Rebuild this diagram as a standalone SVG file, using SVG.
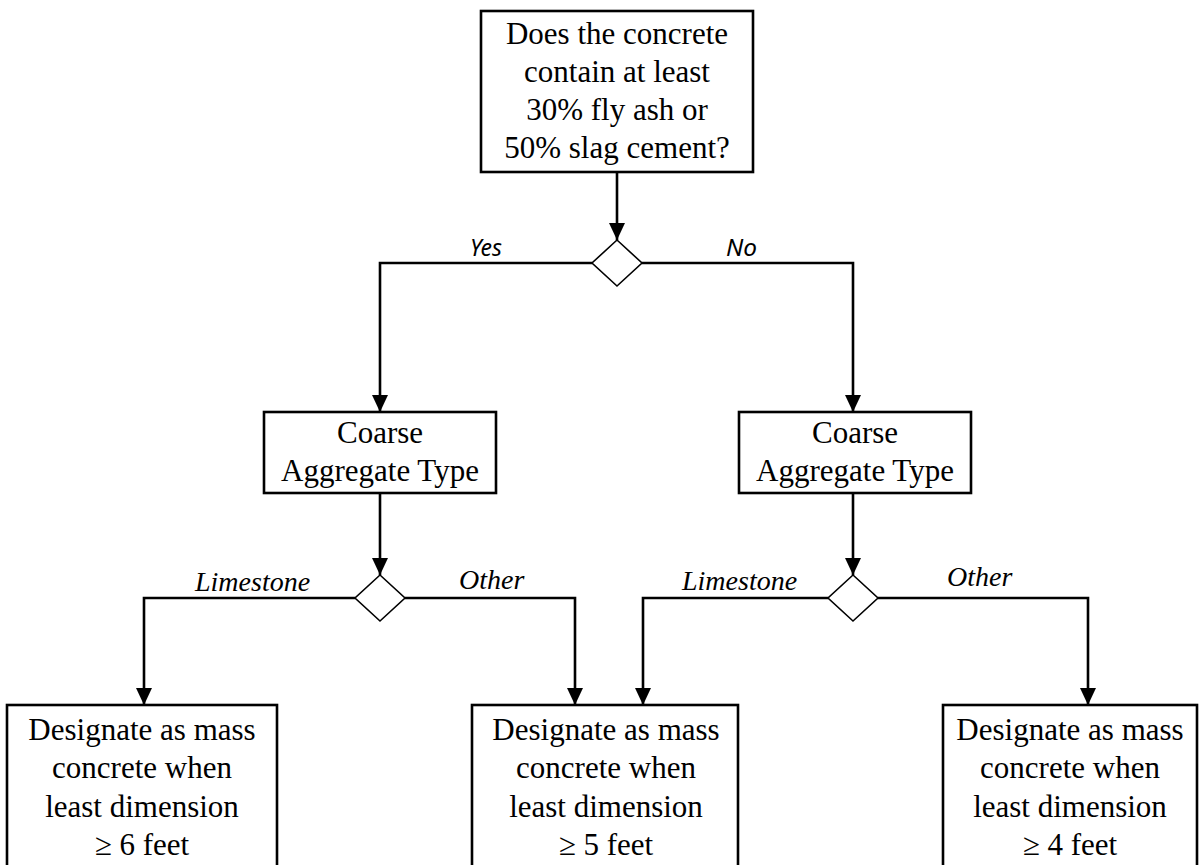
<svg xmlns="http://www.w3.org/2000/svg" width="1202" height="865" viewBox="0 0 1202 865">
  <style>
    .box { fill: #ffffff; stroke: #000000; stroke-width: 2.6; }
    .dia { fill: #ffffff; stroke: #000000; stroke-width: 1.6; }
    .txt { font-family: "Liberation Serif", "Times New Roman", serif; font-size: 31px; fill: #000000; text-anchor: middle; }
    .lbl { font-family: "Liberation Serif", "Times New Roman", serif; font-size: 28px; font-style: italic; fill: #000000; }
    .lbs { font-family: "Noto Sans", "Open Sans", sans-serif; font-size: 24px; font-style: italic; fill: #000000; }
    .conn { fill: none; stroke: #000000; stroke-width: 2.6; marker-end: url(#arrow); }
  </style>
  <defs>
    <marker id="arrow" viewBox="0 0 17 16" refX="17" refY="8" markerWidth="17" markerHeight="16" markerUnits="userSpaceOnUse" orient="auto">
      <path d="M0,0 L17,8 L0,16 z" fill="#000000"/>
    </marker>
  </defs>
  <rect width="1202" height="865" fill="#ffffff"/>

  <!-- connectors -->
  <g id="connectors">
    <path class="conn" d="M617,172 V240"/>
    <path class="conn" d="M592,263 H380 V412"/>
    <path class="conn" d="M642,263 H853 V412"/>
    <path class="conn" d="M380,493 V575"/>
    <path class="conn" d="M853,493 V575"/>
    <path class="conn" d="M355,598 H144 V705"/>
    <path class="conn" d="M405,598 H575 V705"/>
    <path class="conn" d="M828,598 H643 V705"/>
    <path class="conn" d="M878,598 H1088 V705"/>
    <text class="lbs" x="470" y="256" textLength="32" lengthAdjust="spacingAndGlyphs">Yes</text>
    <text class="lbs" x="726" y="256" textLength="31" lengthAdjust="spacingAndGlyphs">No</text>
    <text class="lbl" x="195" y="591">Limestone</text>
    <text class="lbl" x="459" y="589">Other</text>
    <text class="lbl" x="682" y="590">Limestone</text>
    <text class="lbl" x="947" y="586">Other</text>
  </g>

  <!-- question -->
  <g id="question">
    <rect class="box" x="481" y="11" width="272" height="161"/>
    <text class="txt" x="617" y="44">Does the concrete</text>
    <text class="txt" x="617" y="82">contain at least</text>
    <text class="txt" x="617" y="120">30% fly ash or</text>
    <text class="txt" x="617" y="158">50% slag cement?</text>
  </g>

  <g id="decision-top">
    <polygon class="dia" points="617,240 642,263 617,286 592,263"/>
  </g>

  <g id="aggregate-left">
    <rect class="box" x="264" y="412" width="232" height="81"/>
    <text class="txt" x="380" y="443">Coarse</text>
    <text class="txt" x="380" y="481">Aggregate Type</text>
  </g>

  <g id="aggregate-right">
    <rect class="box" x="739" y="412" width="232" height="81"/>
    <text class="txt" x="855" y="443">Coarse</text>
    <text class="txt" x="855" y="481">Aggregate Type</text>
  </g>

  <g id="decision-left">
    <polygon class="dia" points="380,575 405,598 380,621 355,598"/>
  </g>

  <g id="decision-right">
    <polygon class="dia" points="853,575 878,598 853,621 828,598"/>
  </g>

  <g id="result-6ft">
    <rect class="box" x="7" y="705" width="270" height="180"/>
    <text class="txt" x="142" y="740">Designate as mass</text>
    <text class="txt" x="142" y="778">concrete when</text>
    <text class="txt" x="142" y="817">least dimension</text>
    <text class="txt" x="142" y="855">≥ 6 feet</text>
  </g>

  <g id="result-5ft">
    <rect class="box" x="472" y="705" width="266" height="180"/>
    <text class="txt" x="606" y="740">Designate as mass</text>
    <text class="txt" x="606" y="778">concrete when</text>
    <text class="txt" x="606" y="817">least dimension</text>
    <text class="txt" x="606" y="855">≥ 5 feet</text>
  </g>

  <g id="result-4ft">
    <rect class="box" x="943" y="705" width="254" height="180"/>
    <text class="txt" x="1070" y="740">Designate as mass</text>
    <text class="txt" x="1070" y="778">concrete when</text>
    <text class="txt" x="1070" y="817">least dimension</text>
    <text class="txt" x="1070" y="855">≥ 4 feet</text>
  </g>
</svg>
